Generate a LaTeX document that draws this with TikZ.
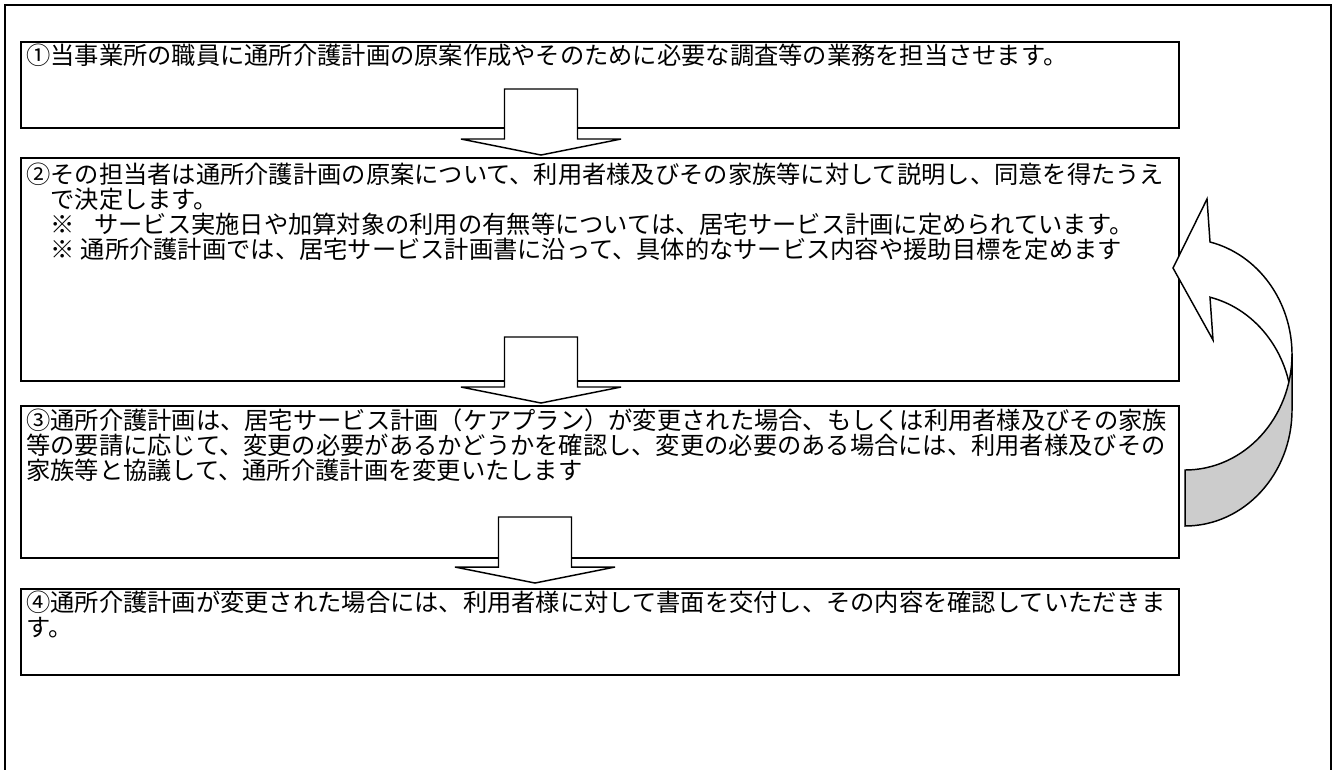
\documentclass[tikz,border=0pt]{standalone}
\usepackage{fontspec}
\setmainfont{Noto Sans CJK JP}
\newfontfamily\jpfont{Noto Sans CJK JP}
\begin{document}
\begin{tikzpicture}[x=0.75pt,y=-0.75pt,
  outerframe/.style={draw=black,line width=1.5pt},
  stepbox/.style={draw=black,line width=1.7pt,fill=white,inner sep=0pt,outer sep=0pt,anchor=north west,minimum width=868.5pt},
  steptext/.style={anchor=north west,inner sep=0pt,align=left,font=\jpfont\fontsize{18.2pt}{18.75pt}\selectfont},
  blockarrow/.style={draw=black,line width=1.1pt,fill=white,line join=miter},
  curvefront/.style={draw=black,line width=1.1pt,fill=white,line join=miter},
  curveback/.style={draw=black,line width=1.1pt,fill=gray!40,line join=miter},
  downarr/.pic={\draw[blockarrow] (-36.5,-66) -- (36.5,-66) -- (36.5,-16) -- (80,-16) -- (0,0) -- (-80,-16) -- (-36.5,-16) -- cycle;}
]
\useasboundingbox (0,0) rectangle (1333,769);
\draw[outerframe] (5,800) -- (5,5) -- (1331,5) -- (1331,800);

\node[stepbox,minimum height=64.5pt] (b1) at (21,42) {};
\node[stepbox,minimum height=167.25pt] (b2) at (21,158) {};
\node[stepbox,minimum height=114pt] (b3) at (21,406) {};
\node[stepbox,minimum height=64.5pt] (b4) at (21,589) {};

\node[steptext] (t1) at ([xshift=3.75pt,yshift=-1.5pt]b1.north west) {①当事業所の職員に通所介護計画の原案作成やそのために必要な調査等の業務を担当させます。};
\node[steptext] (t2) at ([xshift=3.75pt,yshift=-3.75pt]b2.north west) {②その担当者は通所介護計画の原案について、利用者様及びその家族等に対して説明し、同意を得たうえ\\
\hspace*{1em}で決定します。\\
\hspace*{1em}※\hspace{0.8em}サービス実施日や加算対象の利用の有無等については、居宅サービス計画に定められています。\\
\hspace*{1em}※\hspace{0.25em}通所介護計画では、居宅サービス計画書に沿って、具体的なサービス内容や援助目標を定めます};
\node[steptext] (t3) at ([xshift=3.75pt,yshift=-1.5pt]b3.north west) {③通所介護計画は、居宅サービス計画（ケアプラン）が変更された場合、もしくは利用者様及びその家族\\
等の要請に応じて、変更の必要があるかどうかを確認し、変更の必要のある場合には、利用者様及びその\\
家族等と協議して、通所介護計画を変更いたします};
\node[steptext] (t4) at ([xshift=3.75pt,yshift=-1.5pt]b4.north west) {④通所介護計画が変更された場合には、利用者様に対して書面を交付し、その内容を確認していただきま\\
す。};

\pic (a1) at (541,155) {downarr};
\pic (a2) at (541,403) {downarr};
\pic (a3) at (535,583) {downarr};

% curved return arrow (from step 3 back to step 2)
\draw[curvefront] (1173,268) -- (1207,199) -- (1210,242)
  arc[start angle=-76.5,end angle=0,x radius=107,y radius=116]
  -- (1292,410)
  arc[start angle=0,end angle=-76.5,x radius=107,y radius=116]
  -- (1213,340) -- cycle;
\draw[curveback] (1292,354)
  arc[start angle=0,end angle=90,x radius=107,y radius=116]
  -- (1185,526)
  arc[start angle=90,end angle=0,x radius=107,y radius=116]
  -- cycle;
\end{tikzpicture}
\end{document}
